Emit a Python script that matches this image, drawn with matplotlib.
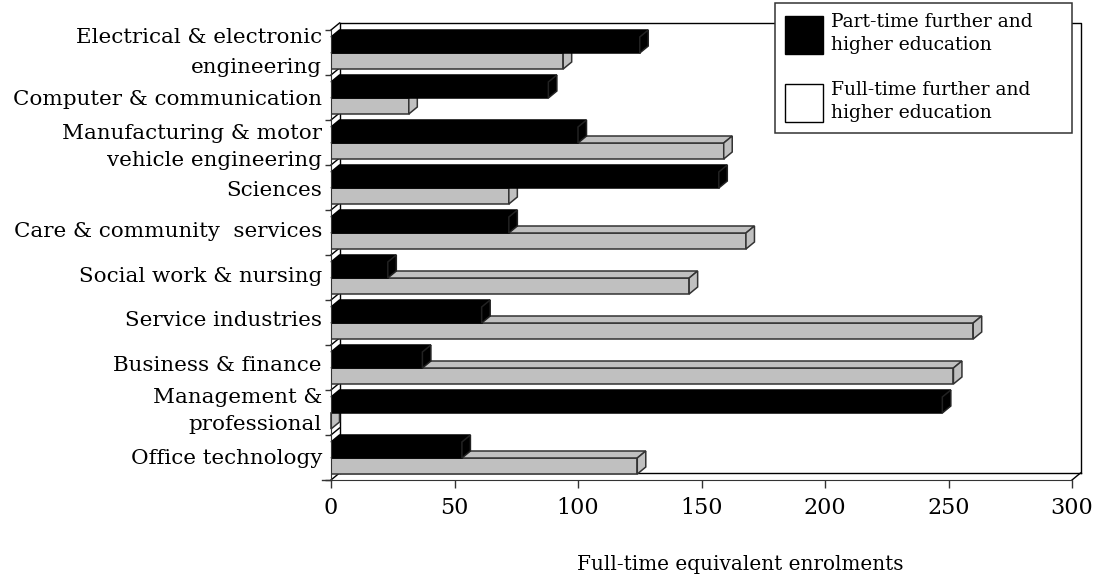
import numpy as np
import matplotlib
matplotlib.use("Agg")
import matplotlib.pyplot as plt
from matplotlib.patches import Patch

categories = [
    "Electrical & electronic\nengineering",
    "Computer & communication",
    "Manufacturing & motor\nvehicle engineering",
    "Sciences",
    "Care & community  services",
    "Social work & nursing",
    "Service industries",
    "Business & finance",
    "Management &\nprofessional",
    "Office technology",
]
part_time = [125, 88, 100, 157, 72, 23, 61, 37, 247.5, 53]
full_time = [94, 31.5, 159, 72, 168, 145, 260, 252, 0, 124]
x_ticks = [0, 50, 100, 150, 200, 250, 300]
part_label = "Part-time further and\nhigher education"
full_label = "Full-time further and\nhigher education"
x_label = "Full-time equivalent enrolments"

GREY = "#c0c0c0"
EDGE = "#333333"
W, H = 1101, 580

plt.rcParams["font.family"] = "DejaVu Serif"
fig = plt.figure(figsize=(W / 100, H / 100), dpi=100)
ax = fig.add_axes([331 / W, 1 - 480 / H, (1072 - 331) / W, 450 / H])
ax.set_xlim(0, 300)
ax.set_ylim(10, 0)
ax.patch.set_visible(False)

# depth of the fake 3d, in data units
dx = 8.5 * 300 / 741
dy = 7 * 10 / 450
bar_h = 16 / 45
top_pad = 7 / 45


def box(y, val, color, edge, side_edge):
    ax.barh(y, val, height=bar_h, align="edge", color=color, edgecolor=edge, linewidth=1.1, zorder=3)
    ax.fill([0, val, val + dx, dx], [y, y, y - dy, y - dy],
            facecolor=color, edgecolor=edge, linewidth=1.1, zorder=3, clip_on=False)
    ax.fill([val, val + dx, val + dx, val], [y, y - dy, y + bar_h - dy, y + bar_h],
            facecolor=color, edgecolor=side_edge, linewidth=1.1, zorder=3, clip_on=False)


# back wall, left wall, floor
n = len(categories)
ax.plot([dx, 300 + dx, 300 + dx], [-dy, -dy, n - dy], color="k", lw=1, zorder=1, clip_on=False)
ax.plot([dx, 300 + dx], [n - dy, n - dy], color="k", lw=1, zorder=1, clip_on=False)
ax.plot([300, 300 + dx], [n, n - dy], color="k", lw=1, zorder=1, clip_on=False)
ax.plot([dx, dx], [-dy, n - dy], color="k", lw=1, zorder=1, clip_on=False)
for i in range(n + 1):
    ax.plot([0, dx], [i, i - dy], color="k", lw=1, zorder=1, clip_on=False)

for i in range(n):
    box(i + top_pad + bar_h, full_time[i], GREY, EDGE, EDGE)
    box(i + top_pad, part_time[i], "black", "black", "#222222")

# labels don't sit exactly on the row centres in the original
nudge = np.array([-.12, .05, 0, .07, -.02, -.02, -.04, -.04, -.13, .02])
ax.set_xticks(x_ticks)
ax.set_yticks(np.arange(n + 1))
ax.set_yticklabels([])
ax.set_yticks(np.arange(n) + 0.46 + nudge, labels=categories, minor=True)
ax.tick_params(axis="y", which="major", length=4.5, width=1, color=EDGE)
ax.tick_params(axis="y", which="minor", length=0, pad=6.5, labelsize=15.4)
ax.tick_params(axis="x", length=6, width=1, color=EDGE, labelsize=16, pad=6.5)
for lab in ax.get_yticklabels(minor=True):
    lab.set_linespacing(1.55)
ax.get_yticklabels(minor=True)[0].set_linespacing(1.72)
for s in ["top", "right"]:
    ax.spines[s].set_visible(False)
for s in ["left", "bottom"]:
    ax.spines[s].set_color(EDGE)
    ax.spines[s].set_zorder(4)
# bottom tick runs a bit longer
ax.plot([-9 * 300 / 741, 0], [n, n], color=EDGE, lw=1, clip_on=False)

ax.set_xlabel(x_label, fontsize=14.4)
ax.xaxis.set_label_coords((740 - 331) / 741, -(565 - 480) / 450, transform=ax.transAxes)
ax.xaxis.label.set_verticalalignment("center")

handles = [Patch(facecolor="black", edgecolor="black", label=part_label),
           Patch(facecolor="white", edgecolor="black", label=full_label)]
leg = fig.legend(handles=handles, loc="upper left", mode="expand",
                 bbox_to_anchor=(775 / W, 1 - 135 / H, 297 / W, 132 / H),
                 bbox_transform=fig.transFigure, fontsize=13.5, frameon=True, fancybox=False,
                 framealpha=1, edgecolor=EDGE, borderaxespad=0, borderpad=0.55,
                 handlelength=2.03, handleheight=2.75, handletextpad=0.43, labelspacing=1.45)
leg.get_frame().set_linewidth(1.1)
leg.set_zorder(10)
for t in leg.get_texts():
    t.set_linespacing(1.35)

fig.savefig("out.png", dpi=100)
